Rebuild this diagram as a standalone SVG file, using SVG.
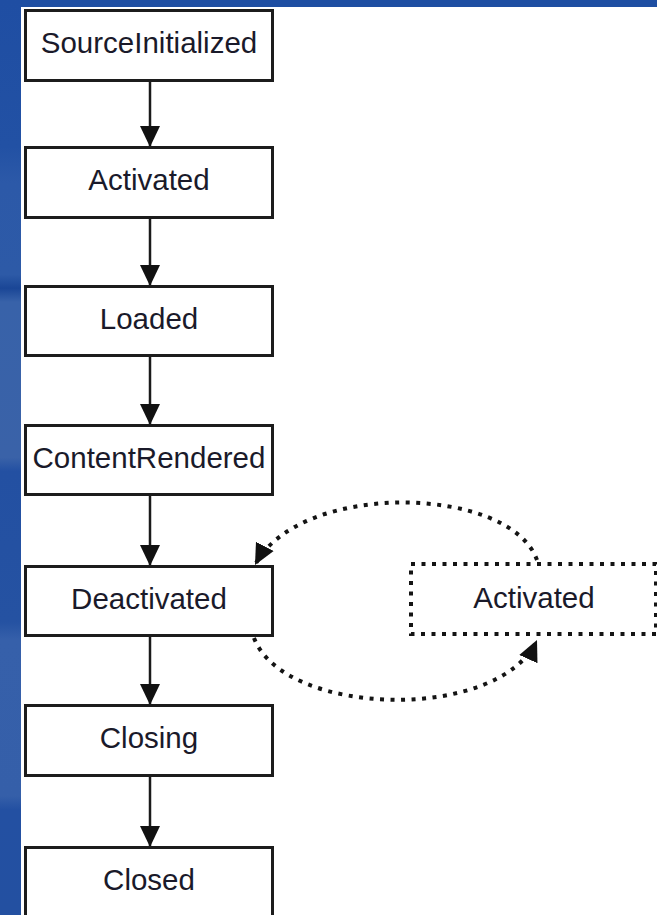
<svg xmlns="http://www.w3.org/2000/svg" width="657" height="915" viewBox="0 0 657 915">
  <style>
    .box { fill: #ffffff; stroke: #1c1c1c; stroke-width: 3; }
    .dbox { fill: #ffffff; stroke: #141414; stroke-width: 4; stroke-dasharray: 4 6.5; }
    .lbl { font-family: "Liberation Sans", Arial, sans-serif; font-size: 29.5px; fill: #1a1a2a; text-anchor: middle; }
    .edge { fill: none; stroke: #1a1a1a; stroke-width: 2.5; }
    .dedge { fill: none; stroke: #141414; stroke-width: 4; stroke-dasharray: 4 6.5; }
  </style>
  <defs>
    <marker id="arr" markerUnits="userSpaceOnUse" markerWidth="22" markerHeight="22" viewBox="0 0 22 22" refX="21" refY="11" orient="auto">
      <path d="M0,1 L21,11 L0,21 z" fill="#111"/>
    </marker>
    <linearGradient id="side" x1="0" y1="0" x2="0" y2="1">
      <stop offset="0" stop-color="#1f4ea3"/>
      <stop offset="0.16" stop-color="#2251a4"/>
      <stop offset="0.2" stop-color="#2c59a8"/>
      <stop offset="0.3" stop-color="#2d5aa7"/>
      <stop offset="0.315" stop-color="#1a4696"/>
      <stop offset="0.33" stop-color="#3862a9"/>
      <stop offset="0.5" stop-color="#3a62a8"/>
      <stop offset="0.515" stop-color="#2350a2"/>
      <stop offset="0.68" stop-color="#2552a2"/>
      <stop offset="0.7" stop-color="#3660aa"/>
      <stop offset="0.87" stop-color="#355fa9"/>
      <stop offset="0.885" stop-color="#2350a2"/>
      <stop offset="1" stop-color="#2350a1"/>
    </linearGradient>
  </defs>

  <rect x="0" y="0" width="657" height="915" fill="#ffffff"/>
  <rect x="0" y="0" width="657" height="7" fill="#1e4ea2"/>
  <rect x="0" y="0" width="21" height="915" fill="url(#side)"/>

  <g id="connectors">
    <line class="edge" x1="150" y1="81" x2="150" y2="147" marker-end="url(#arr)"/>
    <line class="edge" x1="150" y1="218" x2="150" y2="286" marker-end="url(#arr)"/>
    <line class="edge" x1="150" y1="355" x2="150" y2="425" marker-end="url(#arr)"/>
    <line class="edge" x1="150" y1="494" x2="150" y2="566" marker-end="url(#arr)"/>
    <line class="edge" x1="150" y1="636" x2="150" y2="705" marker-end="url(#arr)"/>
    <line class="edge" x1="150" y1="776" x2="150" y2="847" marker-end="url(#arr)"/>
    <path class="dedge" d="M537,560 C510,485 300,480 255,565" marker-end="url(#arr)"/>
    <path class="dedge" d="M254,638 C285,718 500,722 537,640" marker-end="url(#arr)"/>
  </g>

  <g id="SourceInitialized">
    <rect class="box" x="25.5" y="10.5" width="247" height="70"/>
    <text class="lbl" x="149" y="53">SourceInitialized</text>
  </g>
  <g id="Activated">
    <rect class="box" x="25.5" y="147.5" width="247" height="70"/>
    <text class="lbl" x="149" y="190">Activated</text>
  </g>
  <g id="Loaded">
    <rect class="box" x="25.5" y="286.5" width="247" height="69"/>
    <text class="lbl" x="149" y="329">Loaded</text>
  </g>
  <g id="ContentRendered">
    <rect class="box" x="25.5" y="425.5" width="247" height="69"/>
    <text class="lbl" x="149" y="468">ContentRendered</text>
  </g>
  <g id="Deactivated">
    <rect class="box" x="25.5" y="566.5" width="247" height="69"/>
    <text class="lbl" x="149" y="609">Deactivated</text>
  </g>
  <g id="ActivatedLoop">
    <rect class="dbox" x="411" y="564" width="245" height="70"/>
    <text class="lbl" x="534" y="608">Activated</text>
  </g>
  <g id="Closing">
    <rect class="box" x="25.5" y="705.5" width="247" height="70"/>
    <text class="lbl" x="149" y="748">Closing</text>
  </g>
  <g id="Closed">
    <rect class="box" x="25.5" y="847.5" width="247" height="70"/>
    <text class="lbl" x="149" y="890">Closed</text>
  </g>
</svg>
